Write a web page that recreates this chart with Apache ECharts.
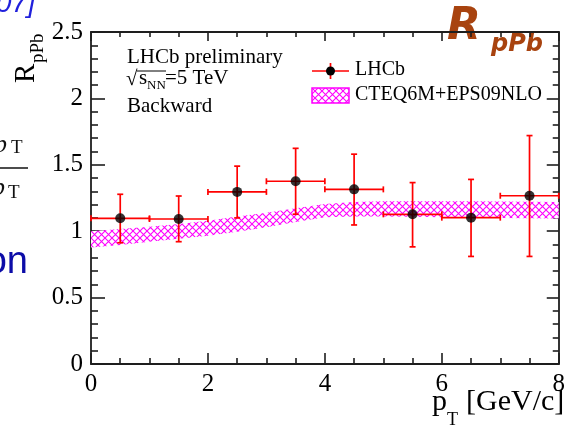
<!DOCTYPE html>
<html>
<head>
<meta charset="utf-8">
<script src="https://cdn.jsdelivr.net/npm/echarts@6/dist/echarts.min.js"></script>
<style>
  html, body { margin: 0; padding: 0; background: #ffffff; }
  #chart { width: 568px; height: 429px; }
</style>
</head>
<body>
<div id="chart"></div>
<script>
// LHCb preliminary R_pPb versus pT, backward rapidity, sqrt(s_NN) = 5 TeV
const binEdges   = [0, 1, 2, 3, 4, 5, 6, 7, 8];
const ptCenters  = [0.5, 1.5, 2.5, 3.5, 4.5, 5.5, 6.5, 7.5];
const rpPb       = [1.097, 1.092, 1.296, 1.376, 1.315, 1.127, 1.102, 1.267];
const rpPbHigh   = [1.278, 1.265, 1.490, 1.624, 1.580, 1.366, 1.390, 1.720];
const rpPbLow    = [0.913, 0.921, 1.100, 1.128, 1.047, 0.882, 0.810, 0.810];

// CTEQ6M + EPS09NLO uncertainty band
const bandPt   = [0, 0.5, 1, 1.5, 2, 2.5, 3, 3.5, 4, 4.5, 5, 5.5, 6, 6.5, 7, 7.5, 8];
const bandLow  = [0.877, 0.896, 0.920, 0.944, 0.966, 0.996, 1.029, 1.069, 1.105, 1.110, 1.110, 1.108, 1.105, 1.102, 1.100, 1.098, 1.095];
const bandHigh = [1.000, 1.016, 1.034, 1.054, 1.079, 1.110, 1.139, 1.172, 1.205, 1.220, 1.225, 1.226, 1.226, 1.225, 1.224, 1.222, 1.220];

// Axis tick labels
const xTickLabels = ['0', '2', '4', '6', '8'];
const yTickLabels = ['0', '0.5', '1', '1.5', '2', '2.5'];

const SERIF = '"Liberation Serif", "Times New Roman", serif';
const SANS = '"Liberation Sans", Arial, sans-serif';
const HEAVY_SANS = '"DejaVu Sans", Verdana, sans-serif';
const AXIS_COLOR = '#1e1e1e';

// Magenta cross-hatch tile for the theory band
const TILE = 7;
const hatch = document.createElement('canvas');
hatch.width = TILE; hatch.height = TILE;
(function () {
  const g = hatch.getContext('2d');
  g.fillStyle = '#ffffff';
  g.fillRect(0, 0, TILE, TILE);
  g.strokeStyle = '#ff00ff';
  g.lineWidth = 1.1;
  g.beginPath();
  g.moveTo(0, 0); g.lineTo(TILE, TILE);
  g.moveTo(TILE, 0); g.lineTo(0, TILE);
  g.stroke();
})();
const hatchFill = { image: hatch, repeat: 'repeat' };

// text placed by its alphabetic baseline
function txt(x, baseline, text, font, size, color, extra) {
  return Object.assign({
    type: 'text', x: x, y: baseline - 0.35 * size, silent: true,
    style: Object.assign({
      text: text, font: font, fill: color || '#000',
      align: 'left', verticalAlign: 'middle'
    }, (extra && extra.style) || {})
  }, (extra && extra.el) || {});
}

const chart = echarts.init(document.getElementById('chart'), null, { renderer: 'canvas' });

const tickLabelFmt = (labels) => (v) => {
  const s = String(+v.toFixed(2));
  return labels.indexOf(s) >= 0 ? s : '';
};

const xAxisBase = {
  type: 'value', min: 0, max: 8, interval: 2,
  axisLine: { show: true, onZero: false, lineStyle: { color: AXIS_COLOR, width: 1.8 } },
  axisTick: { show: true, inside: true, length: 11, lineStyle: { color: AXIS_COLOR, width: 1.6 } },
  minorTick: { show: true, splitNumber: 4, length: 6, lineStyle: { color: AXIS_COLOR, width: 1.6 } },
  splitLine: { show: false }
};
const yAxisBase = {
  type: 'value', min: 0, max: 2.5, interval: 0.5,
  axisLine: { show: true, onZero: false, lineStyle: { color: AXIS_COLOR, width: 1.8 } },
  axisTick: { show: true, inside: true, length: 14, lineStyle: { color: AXIS_COLOR, width: 1.6 } },
  minorTick: { show: true, splitNumber: 5, length: 7, lineStyle: { color: AXIS_COLOR, width: 1.6 } },
  splitLine: { show: false }
};

const errorData = ptCenters.map((x, i) => [x, rpPb[i], rpPbLow[i], rpPbHigh[i], binEdges[i], binEdges[i + 1]]);

function renderError(params, api) {
  const c  = api.coord([api.value(0), api.value(1)]);
  const lo = api.coord([api.value(0), api.value(2)]);
  const hi = api.coord([api.value(0), api.value(3)]);
  const l  = api.coord([api.value(4), api.value(1)]);
  const r  = api.coord([api.value(5), api.value(1)]);
  const cap = 3;
  const st = { stroke: '#ff0000', lineWidth: 1.7 };
  const seg = (x1, y1, x2, y2) => ({ type: 'line', shape: { x1, y1, x2, y2 }, style: st });
  return {
    type: 'group',
    children: [
      seg(l[0], c[1], r[0], c[1]),
      seg(c[0], lo[1], c[0], hi[1]),
      seg(l[0], c[1] - cap, l[0], c[1] + cap),
      seg(r[0], c[1] - cap, r[0], c[1] + cap),
      seg(c[0] - cap, lo[1], c[0] + cap, lo[1]),
      seg(c[0] - cap, hi[1], c[0] + cap, hi[1])
    ]
  };
}

function renderBand(params, api) {
  const pts = [];
  for (let i = 0; i < bandPt.length; i++) pts.push(api.coord([bandPt[i], bandHigh[i]]));
  for (let i = bandPt.length - 1; i >= 0; i--) pts.push(api.coord([bandPt[i], bandLow[i]]));
  return { type: 'polygon', shape: { points: pts }, style: { fill: hatchFill, stroke: null } };
}

const legendX = 312;
const graphics = [
  // slide fragments around the plot
  txt(-4, 14, '07]', 'italic 28px ' + SANS, 28, '#2020dc'),
  txt(-6, 154, 'p', 'italic 26px ' + SERIF, 26, '#111'),
  txt(11, 155, 'T', '19px ' + SERIF, 19, '#111'),
  { type: 'line', silent: true, shape: { x1: 0, y1: 168, x2: 28, y2: 168 }, style: { stroke: '#111', lineWidth: 1.5 } },
  txt(-8, 197, 'p', 'italic 26px ' + SERIF, 26, '#111'),
  txt(8, 200, 'T', '19px ' + SERIF, 19, '#111'),
  txt(28, 276, 'on', '38px ' + SANS, 38, '#0c0ca8', { style: { align: 'right' } }),
  txt(447, 43, 'R', 'italic bold 44px ' + HEAVY_SANS, 44, '#a8430f'),
  txt(491, 53, 'pPb', 'italic bold 24px ' + HEAVY_SANS, 24, '#a8430f'),

  // y-axis title R_pPb (rotated)
  {
    type: 'group', x: 37, y: 83, rotation: Math.PI / 2, silent: true,
    children: [
      txt(0, 0, 'R', '29px ' + SERIF, 29, '#000'),
      txt(20, 7.5, 'pPb', '19px ' + SERIF, 19, '#000')
    ]
  },
  // x-axis title pT [GeV/c]
  txt(432, 413, 'p', '30px ' + SERIF, 30, '#000'),
  txt(447, 427, 'T', '18px ' + SERIF, 18, '#000'),
  txt(466, 413, '[GeV/c]', '30px ' + SERIF, 30, '#000'),

  // annotation block
  txt(127, 65, 'LHCb preliminary', '21px ' + SERIF, 21, '#000'),
  txt(126, 87, '\u221A', '21px ' + SERIF, 21, '#000'),
  { type: 'line', silent: true, shape: { x1: 137, y1: 71, x2: 166, y2: 71 }, style: { stroke: '#000', lineWidth: 1 } },
  txt(139, 86, 's', '21px ' + SERIF, 21, '#000'),
  txt(147, 90, 'NN', '13px ' + SERIF, 13, '#000'),
  txt(165, 86, '=5 TeV', '21px ' + SERIF, 21, '#000'),
  txt(127, 114, 'Backward', '21px ' + SERIF, 21, '#000'),

  // legend
  { type: 'line', silent: true, shape: { x1: legendX, y1: 71, x2: legendX + 37, y2: 71 }, style: { stroke: '#ff0000', lineWidth: 1.7 } },
  { type: 'line', silent: true, shape: { x1: legendX + 18.5, y1: 63, x2: legendX + 18.5, y2: 79 }, style: { stroke: '#ff0000', lineWidth: 1.7 } },
  { type: 'circle', silent: true, shape: { cx: legendX + 18.5, cy: 71, r: 4.5 }, style: { fill: '#000' } },
  txt(355, 77, 'LHCb', '20px ' + SERIF, 20, '#000'),
  { type: 'rect', silent: true, shape: { x: legendX, y: 88, width: 37, height: 15 }, style: { fill: hatchFill, stroke: '#ff00ff', lineWidth: 1.5 } },
  txt(355, 102, 'CTEQ6M+EPS09NLO', '20px ' + SERIF, 20, '#000')
];

chart.setOption({
  backgroundColor: '#ffffff',
  animation: false,
  grid: { left: 91, right: 5, top: 32, bottom: 65, containLabel: false },
  xAxis: [
    Object.assign({}, xAxisBase, {
      position: 'bottom',
      axisLabel: { show: true, margin: 8, color: '#000', fontFamily: SERIF, fontSize: 25,
        formatter: tickLabelFmt(xTickLabels) }
    }),
    Object.assign({}, xAxisBase, {
      position: 'top',
      axisTick: Object.assign({}, xAxisBase.axisTick, { length: 9 }),
      minorTick: Object.assign({}, xAxisBase.minorTick, { length: 5 }),
      axisLabel: { show: false }
    })
  ],
  yAxis: [
    Object.assign({}, yAxisBase, {
      position: 'left',
      axisLabel: { show: true, margin: 8, color: '#000', fontFamily: SERIF, fontSize: 25,
        formatter: tickLabelFmt(yTickLabels) }
    }),
    Object.assign({}, yAxisBase, {
      position: 'right',
      axisTick: Object.assign({}, yAxisBase.axisTick, { length: 12 }),
      minorTick: Object.assign({}, yAxisBase.minorTick, { length: 6 }),
      axisLabel: { show: false }
    })
  ],
  series: [
    {
      name: 'CTEQ6M+EPS09NLO', type: 'custom', xAxisIndex: 0, yAxisIndex: 0,
      renderItem: renderBand, data: [[bandPt[0], bandLow[0]]], z: 1, silent: true
    },
    {
      name: 'LHCb errors', type: 'custom', xAxisIndex: 0, yAxisIndex: 0,
      renderItem: renderError, data: errorData, encode: { x: 0, y: 1 }, z: 3, silent: true
    },
    {
      name: 'LHCb', type: 'scatter', xAxisIndex: 0, yAxisIndex: 0,
      data: ptCenters.map((x, i) => [x, rpPb[i]]),
      symbol: 'circle', symbolSize: 10, itemStyle: { color: '#000' }, z: 4, silent: true
    }
  ],
  graphic: graphics
});
</script>
</body>
</html>
